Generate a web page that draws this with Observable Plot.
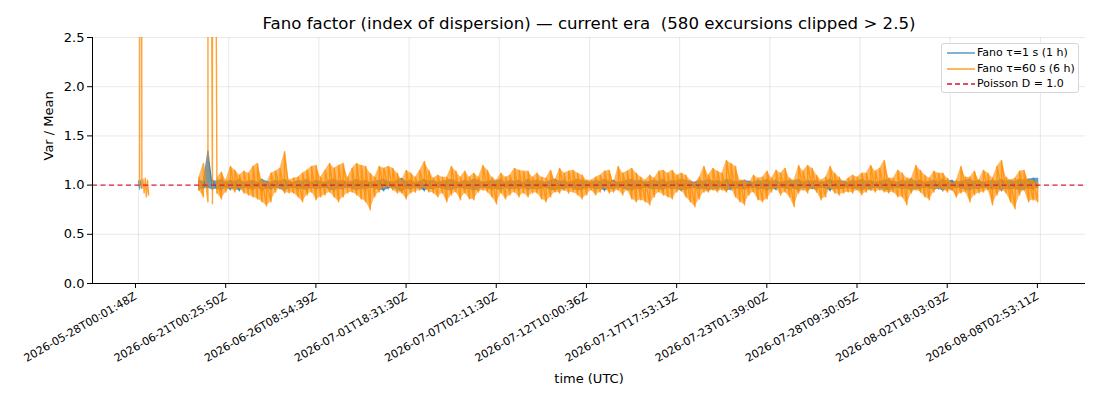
<!DOCTYPE html>
<html><head><meta charset="utf-8">
<script src="https://cdn.jsdelivr.net/npm/d3@7"></script>
<script src="https://cdn.jsdelivr.net/npm/@observablehq/plot@0.6"></script>
<style>
body{margin:0;background:#fff;font-family:"DejaVu Sans",sans-serif;}
#wrap{position:relative;width:1100px;height:400px;}
#legend{position:absolute;left:941px;top:43px;width:136px;height:48px;border:1px solid #d6d6d6;border-radius:3px;background:rgba(255,255,255,0.85);font-size:11px;color:#000;}
.row{position:absolute;left:0;width:136px;height:16px;}
.sw{position:absolute;left:4px;top:3px;}
.lt{position:absolute;left:35px;top:1px;white-space:nowrap;line-height:14px;}
</style>
</head><body>
<div id="wrap"><div id="chart"></div>
<div id="legend">
  <div class="row" style="top:1px"><svg class="sw" width="30" height="10"><line x1="1" x2="29" y1="5" y2="5" stroke="#1f77b4" stroke-opacity="0.75" stroke-width="1.5"/></svg><div class="lt">Fano τ=1 s (1 h)</div></div>
  <div class="row" style="top:17px"><svg class="sw" width="30" height="10"><line x1="1" x2="29" y1="5" y2="5" stroke="#ff8c00" stroke-opacity="0.85" stroke-width="1.5"/></svg><div class="lt">Fano τ=60 s (6 h)</div></div>
  <div class="row" style="top:32px"><svg class="sw" width="30" height="10"><line x1="1" x2="29" y1="5" y2="5" stroke="crimson" stroke-width="1.5" stroke-dasharray="5,3"/></svg><div class="lt">Poisson D = 1.0</div></div>
</div></div>
<script>
const tickLabels = ["2026-05-28T00:01:48Z","2026-06-21T00:25:50Z","2026-06-26T08:54:39Z","2026-07-01T18:31:30Z","2026-07-07T02:11:30Z","2026-07-12T10:00:36Z","2026-07-17T17:53:13Z","2026-07-23T01:39:00Z","2026-07-28T09:30:05Z","2026-08-02T18:03:03Z","2026-08-08T02:53:11Z"];
const yTicks = [0, 0.5, 1.0, 1.5, 2.0, 2.5];
const clipLimit = 2.5;

// segment A (first short stretch), sample index start & step
const segAStart = 0, segAStep = 1.25;
const blueA = [1.04, 0.96, 1.05, 0.97];
const orangeAStart = 1.25;
const orangeA = [1.0, 12.0, 0.97, 1.06, 0.92, 1.07, 0.88, 1.05, 0.9];

// segment B (main stretch): local highs / lows per sample bin
const segBStart = 67, segBStep = 5;
const blueHi = [
1.05,1.04,1.35,1.05,1.04,1.06,1.03,1.05,1.04,1.06,1.03,1.04,1.05,1.03,1.06,1.04,1.03,1.05,1.04,1.06,
1.04,1.03,1.05,1.04,1.06,1.03,1.05,1.04,1.03,1.05,1.06,1.04,1.05,1.03,1.04,1.06,1.04,1.05,1.03,1.04,
1.05,1.06,1.04,1.03,1.05,1.07,1.04,1.05,1.03,1.04,1.06,1.04,1.05,1.03,1.04,1.05,1.06,1.04,1.03,1.05,
1.04,1.06,1.05,1.03,1.04,1.05,1.04,1.06,1.03,1.05,1.04,1.05,1.03,1.06,1.04,1.05,1.04,1.03,1.05,1.06,
1.04,1.05,1.03,1.04,1.06,1.05,1.04,1.03,1.05,1.04,1.06,1.04,1.05,1.03,1.04,1.05,1.06,1.04,1.05,1.03,
1.04,1.05,1.04,1.06,1.03,1.05,1.04,1.06,1.05,1.04,1.03,1.05,1.04,1.06,1.04,1.05,1.03,1.06,1.05,1.04,
1.04,1.05,1.04,1.03,1.05,1.04,1.06,1.04,1.05,1.03,1.04,1.05,1.04,1.06,1.03,1.05,1.04,1.05,1.03,1.04,
1.06,1.04,1.05,1.04,1.03,1.05,1.04,1.06,1.04,1.05,1.03,1.04,1.05,1.06,1.04,1.03,1.05,1.04,1.06,1.04,
1.05,1.03,1.04,1.05,1.04,1.06,1.04,1.05,1.03,1.04,1.05,1.06,1.04,1.05,1.03,1.04,1.05,1.04,1.06,1.04,
1.05,1.04,1.06,1.05,1.06,1.07,1.07];
const blueLo = [
0.95,0.96,0.97,0.95,0.96,0.94,0.97,0.95,0.96,0.94,0.97,0.96,0.95,0.97,0.94,0.96,0.95,0.97,0.96,0.94,
0.96,0.97,0.95,0.96,0.94,0.97,0.95,0.96,0.97,0.95,0.94,0.96,0.95,0.97,0.96,0.94,0.96,0.95,0.97,0.96,
0.95,0.94,0.96,0.97,0.95,0.93,0.96,0.95,0.97,0.96,0.94,0.96,0.95,0.97,0.96,0.95,0.94,0.96,0.97,0.95,
0.96,0.94,0.95,0.97,0.96,0.95,0.96,0.94,0.97,0.95,0.96,0.95,0.97,0.94,0.96,0.95,0.96,0.97,0.95,0.94,
0.96,0.95,0.97,0.96,0.94,0.95,0.96,0.97,0.95,0.96,0.94,0.96,0.95,0.97,0.96,0.95,0.94,0.96,0.95,0.97,
0.96,0.95,0.96,0.94,0.97,0.95,0.96,0.94,0.95,0.96,0.97,0.95,0.96,0.94,0.96,0.95,0.97,0.94,0.95,0.96,
0.96,0.95,0.96,0.97,0.95,0.96,0.94,0.96,0.95,0.97,0.96,0.95,0.96,0.94,0.97,0.95,0.96,0.95,0.97,0.96,
0.94,0.96,0.95,0.96,0.97,0.95,0.96,0.94,0.96,0.95,0.97,0.96,0.95,0.94,0.96,0.97,0.95,0.96,0.94,0.96,
0.95,0.97,0.96,0.95,0.96,0.94,0.96,0.95,0.97,0.96,0.95,0.94,0.96,0.95,0.97,0.96,0.95,0.96,0.94,0.96,
0.95,0.96,0.94,0.95,0.96,0.95,0.97];
const orangeHi = [
1.08,1.22,12.0,12.0,1.07,1.13,1.05,1.19,1.15,1.10,
1.14,1.12,1.19,1.22,1.05,1.02,1.12,1.14,1.17,1.34,
1.05,1.07,1.08,1.12,1.15,1.19,1.20,1.08,1.15,1.22,
1.17,1.20,1.22,1.08,1.17,1.22,1.20,1.19,1.12,1.08,
1.19,1.17,1.19,1.17,1.12,1.05,1.15,1.12,1.08,1.15,
1.24,1.15,1.07,1.10,1.08,1.08,1.19,1.14,1.08,1.14,
1.08,1.12,1.08,1.20,1.15,1.08,1.05,1.12,1.08,1.10,
1.17,1.15,1.14,1.14,1.08,1.12,1.08,1.07,1.15,1.05,
1.17,1.12,1.14,1.15,1.12,1.10,1.05,1.05,1.08,1.10,
1.14,1.15,1.03,1.19,1.12,1.14,1.17,1.12,1.08,1.05,
1.10,1.07,1.14,1.15,1.12,1.15,1.10,1.12,1.10,1.05,
1.02,1.08,1.19,1.10,1.17,1.14,1.12,1.25,1.22,1.19,
1.05,1.05,1.02,1.10,1.07,1.08,1.14,1.07,1.15,1.12,
1.17,1.07,1.05,1.20,1.14,1.20,1.17,1.10,1.05,1.08,
1.19,1.12,1.08,1.03,1.07,1.10,1.08,1.12,1.12,1.20,
1.14,1.17,1.25,1.07,1.07,1.15,1.12,1.07,1.07,1.20,
1.15,1.10,1.07,1.14,1.12,1.12,1.07,1.02,1.05,1.19,
1.08,1.08,1.14,1.05,1.15,1.12,1.07,1.19,1.25,1.08,
1.05,1.07,1.14,1.15,1.05,1.05,1.02];
const orangeLo = [
0.95,0.88,0.83,0.81,0.92,0.86,0.93,0.97,0.93,0.97,
0.92,0.90,0.88,0.86,0.83,0.79,0.83,0.93,0.97,0.92,
0.92,0.92,0.88,0.83,0.90,0.93,0.85,0.88,0.90,0.93,
0.88,0.83,0.88,0.92,0.93,0.90,0.86,0.83,0.75,0.88,
0.93,0.97,0.98,0.95,0.92,0.92,0.86,0.92,0.93,0.95,
0.97,0.93,0.92,0.88,0.92,0.83,0.90,0.93,0.85,0.92,
0.86,0.85,0.93,0.95,0.93,0.88,0.81,0.92,0.86,0.90,
0.93,0.88,0.92,0.88,0.92,0.92,0.86,0.83,0.88,0.93,
0.92,0.95,0.92,0.93,0.90,0.86,0.90,0.95,0.90,0.93,
0.97,0.92,0.93,0.95,0.90,0.95,0.86,0.83,0.85,0.83,
0.80,0.88,0.93,0.90,0.88,0.86,0.93,0.95,0.88,0.83,
0.78,0.86,0.93,0.93,0.95,0.93,0.95,0.93,0.97,0.88,
0.83,0.80,0.90,0.93,0.85,0.83,0.86,0.93,0.97,0.90,
0.93,0.88,0.78,0.92,0.95,0.92,0.97,0.93,0.85,0.88,
0.97,0.92,0.90,0.92,0.93,0.92,0.95,0.90,0.93,0.95,
0.93,0.95,0.93,0.92,0.93,0.88,0.88,0.80,0.92,0.95,
0.93,0.88,0.85,0.93,0.97,0.95,0.93,0.95,0.88,0.92,
0.93,0.83,0.90,0.92,0.93,0.95,0.80,0.90,0.95,0.92,
0.83,0.76,0.90,0.95,0.83,0.85,0.83];

function build(seg, start, step, vals) {
  return vals.map((v, k) => ({seg, i: start + k * step, v}));
}
// each sample bin: its low then its high, at the bin's index
function buildPairs(seg, start, step, hi, lo) {
  const out = [];
  hi.forEach((h, k) => {
    out.push({seg, i: start + k * step, v: lo[k]});
    out.push({seg, i: start + k * step, v: h});
  });
  return out;
}
function buildBins(start, step, hi, lo) {
  return hi.map((h, k) => ({i: start + k * step, hi: h, lo: lo[k]}));
}
const blue = build("A", segAStart, segAStep, blueA).concat(buildPairs("B", segBStart, segBStep, blueHi, blueLo));
const orange = build("A", orangeAStart, segAStep, orangeA).concat(buildPairs("B", segBStart, segBStep, orangeHi, orangeLo));
const blueBins = buildBins(segBStart, segBStep, blueHi, blueLo);
const orangeBins = buildBins(segBStart, segBStep, orangeHi, orangeLo);

const xTicks = tickLabels.map((_, j) => j * 100);
const xDomain = [-51, 1050];
const inRange = d => (d.hi <= clipLimit ? d.hi : NaN);

const chart = Plot.plot({
  width: 1100, height: 400,
  marginLeft: 92, marginRight: 15, marginTop: 37, marginBottom: 117,
  style: {fontFamily: "DejaVu Sans, sans-serif", background: "white"},
  x: {domain: xDomain},
  y: {domain: [0, 2.5]},
  marks: [
    Plot.gridX(xTicks, {stroke: "#b0b0b0", strokeOpacity: 0.35, strokeWidth: 0.8}),
    Plot.gridY(yTicks, {stroke: "#b0b0b0", strokeOpacity: 0.35, strokeWidth: 0.8}),
    Plot.areaY(blueBins, {x: "i", y1: "lo", y2: "hi", fill: "#1f77b4", fillOpacity: 0.7, clip: true}),
    Plot.line(blue, {x: "i", y: "v", z: "seg", stroke: "#1f77b4", strokeOpacity: 0.7, strokeWidth: 1.2, clip: true}),
    Plot.areaY(orangeBins, {x: "i", y1: "lo", y2: inRange, fill: "#ff8c00", fillOpacity: 0.62, clip: true}),
    Plot.line(orange, {x: "i", y: "v", z: "seg", stroke: "#ff8c00", strokeOpacity: 0.8, strokeWidth: 1.4, clip: true}),
    Plot.ruleY([1], {stroke: "crimson", strokeOpacity: 0.95, strokeDasharray: "5,3.5", strokeWidth: 1.3}),
    Plot.ruleY([0], {stroke: "black", strokeWidth: 1}),
    Plot.ruleX([xDomain[0]], {stroke: "black", strokeWidth: 1}),
    Plot.axisX({ticks: xTicks, tickFormat: d => tickLabels[Math.round(d / 100)], tickRotate: -30, fontSize: 11, tickSize: 5, tickPadding: 7, dx: -3, label: null}),
    Plot.axisY({ticks: yTicks, tickFormat: d3.format(".1f"), fontSize: 13, tickSize: 5, tickPadding: 3, label: null}),
    Plot.text(["Fano factor (index of dispersion) — current era  (580 excursions clipped > 2.5)"], {frameAnchor: "top", lineAnchor: "middle", dy: -14, fontSize: 16.6, fill: "black"}),
    Plot.text(["time (UTC)"], {frameAnchor: "bottom", lineAnchor: "middle", dy: 95, fontSize: 13, fill: "black"}),
    Plot.text(["Var / Mean"], {frameAnchor: "left", dx: -44, rotate: -90, fontSize: 13, fill: "black"})
  ]
});
document.getElementById("chart").appendChild(chart);
</script>
</body></html>
